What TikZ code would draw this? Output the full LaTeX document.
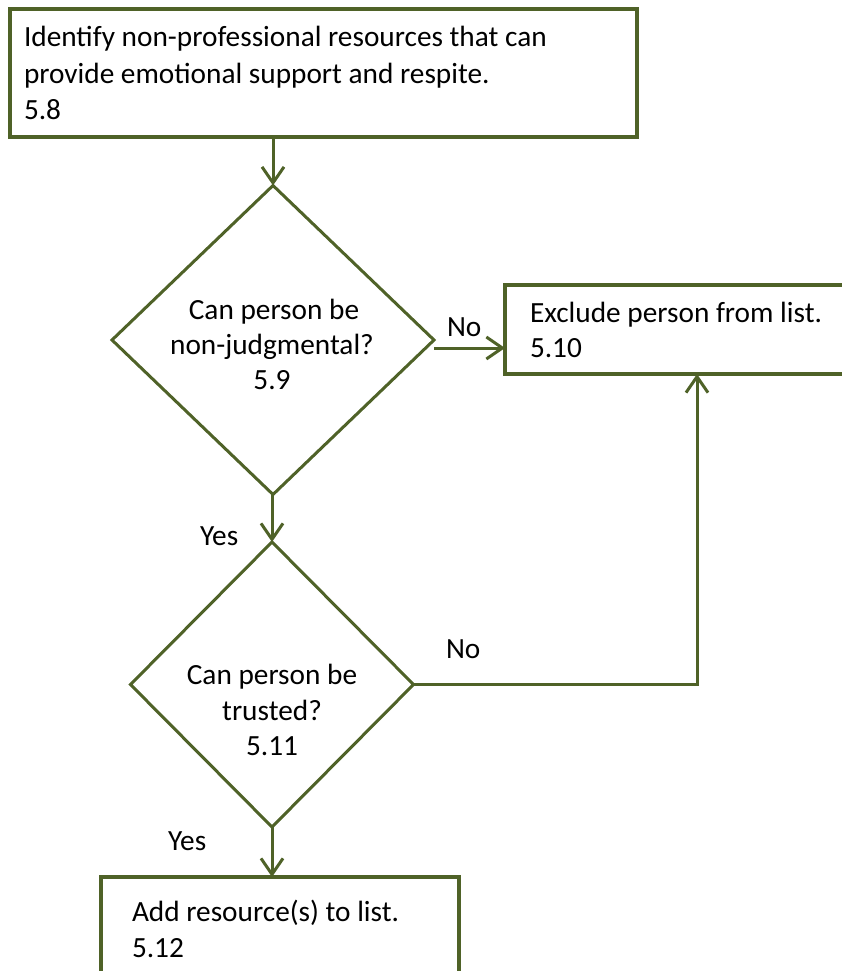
\documentclass[tikz,border=0pt]{standalone}
\usepackage{fontspec}
\setmainfont{Carlito}
\usetikzlibrary{shapes.geometric,arrows.meta}
\definecolor{olive}{RGB}{79,98,40}
\begin{document}
\begin{tikzpicture}[x=1pt,y=-1pt,
  every node/.style={inner sep=0pt,outer sep=0pt},
  stepbox/.style={draw=olive,line width=3.5pt,rectangle},
  decision/.style={draw=olive,line width=3pt,diamond},
  txt/.style={anchor=base west,font=\fontsize{29.3}{36}\selectfont},
  ctxt/.style={anchor=base,font=\fontsize{29.3}{36}\selectfont},
  arr/.style={draw=olive,line width=3pt,-{Straight Barb[length=16pt,width=22pt]}}]
\useasboundingbox (0,0) rectangle (842,971);

% boxes and decisions
\node[stepbox,minimum width=627pt,minimum height=128pt] (box1) at (323.5,73) {};
\node[stepbox,minimum width=345pt,minimum height=89pt] (box2) at (677.5,329.5) {};
\node[stepbox,minimum width=358pt,minimum height=110pt] (box3) at (280,932) {};
\node[decision,minimum width=322pt,minimum height=309pt] (d1) at (273,340) {};
\node[decision,minimum width=283pt,minimum height=285pt] (d2) at (272,684.5) {};

% texts
\node[txt] (t1a) at (24,47) {Identify non-professional resources that can};
\node[txt] (t1b) at (24,84) {provide emotional support and respite.};
\node[txt] (t1c) at (24,120) {5.8};
\node[txt] (t2a) at (530,322) {Exclude person from list.};
\node[txt] (t2b) at (530,357) {5.10};
\node[ctxt] (q1a) at (274,319) {Can person be};
\node[ctxt] (q1b) at (272,354) {non-judgmental?};
\node[ctxt] (q1c) at (272,389) {5.9};
\node[ctxt] (q2a) at (272,684) {Can person be};
\node[ctxt] (q2b) at (272,720) {trusted?};
\node[ctxt] (q2c) at (272,755) {5.11};
\node[txt] (t3a) at (132,921) {Add resource(s) to list.};
\node[txt] (t3b) at (132,957) {5.12};
\node[txt] (yes1) at (200,545) {Yes};
\node[txt] (yes2) at (168,850) {Yes};
\node[txt] (no1) at (447,336) {No};
\node[txt] (no2) at (446,658) {No};

% connectors
\coordinate (up) at (697,374);
\draw[arr] (d1.north |- box1.south) -- (d1.north);
\draw[arr] ([yshift=-8pt]d1.east) -- ([yshift=-8pt]d1.east -| box2.west);
\draw[arr] (d2.north |- d1.south) -- (d2.north);
\draw[arr] (d2.east) -| (up);
\draw[arr] (d2.south) -- (d2.south |- box3.north);
\end{tikzpicture}
\end{document}
